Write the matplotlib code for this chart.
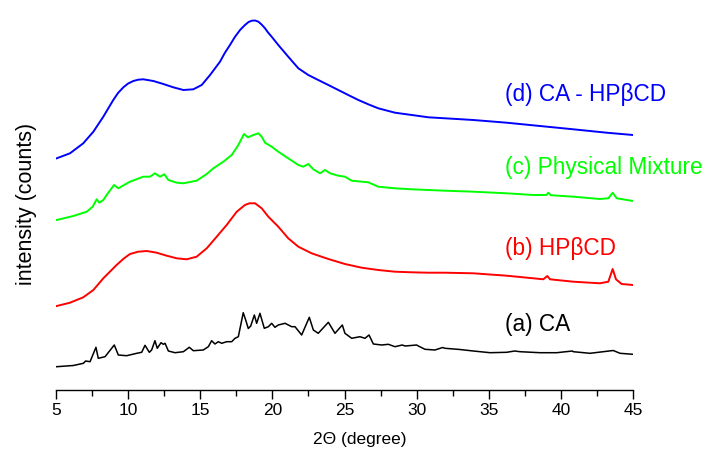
import matplotlib
matplotlib.use("Agg")
import matplotlib.pyplot as plt
from matplotlib.ticker import MultipleLocator

plt.rcParams['font.family'] = ['Liberation Sans', 'DejaVu Sans']

# (a) CA - sharp crystalline peaks
a_x = [5.05, 6.2, 6.9, 7.05, 7.36, 7.77, 7.93, 8.4, 9.04, 9.32, 9.9, 10.6, 10.94,
       11.17, 11.47, 11.63, 11.86, 12.02, 12.28, 12.44, 12.56, 12.79, 13.25, 13.83,
       14.24, 14.52, 15.21, 15.56, 15.79, 16.02, 16.25, 16.49, 16.83, 17.18, 17.41,
       17.64, 17.98, 18.15, 18.33, 18.5, 18.75, 18.91, 19.14, 19.44, 19.72, 19.95,
       20.18, 20.41, 20.88, 21.34, 21.57, 22.03, 22.56, 22.84, 23.18, 23.88, 24.34,
       24.85, 25.03, 25.5, 26.07, 26.42, 26.7, 27.0, 27.58, 28.04, 28.5, 29.0, 29.2,
       30.0, 30.12, 30.58, 31.27, 31.8, 31.97, 33.0, 33.93, 35.09, 36.24, 36.8,
       37.17, 38.55, 39.71, 40.8, 40.86, 42.02, 43.63, 44.1, 45.0]
a_y = [23.3, 24.5, 26.7, 29.0, 28.3, 42.7, 31.7, 33.3, 45.0, 35.0, 34.3, 36.7, 37.7,
       44.7, 37.7, 40.0, 49.3, 41.7, 47.3, 45.7, 46.7, 39.0, 37.3, 38.3,
       42.7, 39.3, 40.0, 43.3, 49.3, 46.0, 48.3, 46.7, 48.3, 48.3, 51.7,
       53.3, 77.3, 70.0, 61.5, 64.0, 75.0, 66.7, 76.7, 61.7, 63.3, 66.7,
       62.7, 65.0, 66.7, 63.3, 63.3, 55.0, 72.7, 60.0, 56.7, 67.7, 56.7,
       65.0, 56.7, 51.7, 53.3, 51.7, 55.0, 46.0, 45.0, 45.7, 43.3, 45.0, 44.0,
       45.0, 44.0, 40.7, 40.0, 42.5, 41.7, 40.5, 39.0, 37.3, 37.7, 39.0,
       38.3, 37.3, 37.3, 39.0, 38.3, 36.7, 39.5, 36.7, 35.7]

# (b) HPbCD - amorphous halo
b_x = [5.05, 5.97, 6.89, 7.59, 8.28, 8.75, 9.2, 9.7, 10.13, 10.7, 11.29, 11.98, 12.67,
       13.37, 14.06, 14.75, 15.45, 16.14, 16.83, 17.53, 18.1, 18.4, 18.8, 19.26,
       19.72, 20.41, 21.1, 21.8, 22.72, 23.88, 25.03, 26.19, 27.34, 28.5, 29.66,
       30.81, 31.97, 33.93, 36.24, 38.09, 38.78, 39.06, 39.25, 40.86, 42.71, 43.29,
       43.59, 43.82, 44.21, 45.0]
b_y = [84.0, 87.3, 92.7, 100.0, 111.7, 118.5, 125.0, 131.5, 136.0, 138.3, 139.0, 137.3,
       134.3, 131.7, 130.7, 133.3, 141.7, 153.3, 165.0, 178.3, 185.0, 186.7, 186.7,
       181.7, 173.3, 163.3, 151.7, 143.3, 136.7, 131.0, 126.0, 122.3, 120.0, 118.3,
       117.7, 117.3, 117.3, 116.7, 114.3, 111.7, 110.7, 114.0, 110.7, 108.3, 106.7,
       108.3, 121.0, 110.7, 106.0, 105.0]

# (c) Physical Mixture
c_x = [5.05, 6.2, 7.13, 7.54, 7.82, 8.0, 8.28, 8.51, 9.02, 9.32, 10.13, 11.05,
       11.52, 11.86, 12.21, 12.51, 12.79, 13.37, 13.83, 14.75, 15.45, 15.91, 16.6,
       17.18, 17.64, 18.03, 18.3, 18.68, 19.03, 19.26, 19.49, 19.95, 20.41, 21.1,
       21.8, 22.14, 22.49, 22.84, 23.3, 23.65, 24.0, 24.57, 25.03, 25.5, 26.65,
       27.34, 28.5, 29.66, 30.81, 31.97, 33.93, 36.24, 38.09, 39.0, 39.13, 39.3,
       40.86, 42.71, 43.29, 43.59, 43.87, 45.0]
c_y = [170.0, 174.0, 178.3, 183.3, 190.7, 187.3, 190.0, 195.0, 205.0, 201.7, 208.3, 213.3,
       213.3, 216.7, 213.3, 215.7, 210.0, 207.3, 206.7, 209.3, 216.0, 221.7, 228.3,
       235.0, 245.0, 256.0, 252.7, 255.0, 256.7, 253.3, 247.3, 243.3, 238.3, 231.7,
       225.0, 223.3, 226.0, 220.7, 216.7, 220.0, 216.7, 214.3, 213.3, 209.3, 207.7,
       203.3, 201.7, 200.7, 200.0, 199.3, 198.3, 196.7, 195.0, 195.0, 197.3, 194.8,
       193.3, 191.0, 191.7, 197.3, 191.7, 189.0]

# (d) CA - HPbCD inclusion complex
d_x = [5.05, 5.97, 6.89, 7.59, 8.28, 8.97, 9.3, 9.67, 10.0, 10.36, 10.7, 11.05, 11.75,
       12.44, 13.13, 13.83, 14.52, 15.1, 15.68, 16.37, 16.7, 17.06, 17.4, 17.76, 18.1,
       18.35, 18.57, 18.8, 19.03, 19.25, 19.49, 19.7, 19.95, 20.41, 21.1, 21.8, 22.49,
       23.18, 23.88, 24.57, 25.26, 25.96, 26.65, 27.34, 28.5, 29.66, 30.81, 31.97,
       33.93, 36.24, 38.55, 40.86, 43.17, 45.0]
d_y = [231.7, 236.7, 246.7, 258.3, 273.3, 290.0, 297.0, 302.7, 306.5, 309.0, 310.3, 310.7,
       309.0, 306.0, 302.7, 300.0, 300.7, 305.0, 315.0, 328.3, 337.0, 345.0, 353.0,
       360.0, 365.0, 368.0, 369.3, 369.5, 368.3, 365.5, 361.7, 357.5, 353.3, 345.0,
       333.3, 321.7, 315.0, 310.0, 305.0, 300.0, 295.0, 290.0, 285.7, 281.7, 277.3,
       275.0, 272.7, 271.7, 270.0, 267.3, 264.0, 260.7, 257.3, 255.0]

labels = ['(a) CA', '(b) HPβCD', '(c) Physical Mixture', '(d) CA - HPβCD']
label_y = [65, 142, 223, 296]
colors = ['black', '#ff0000', '#00ff00', '#0000ff']

fig = plt.figure(figsize=(7.02, 4.53), dpi=100)
ax = fig.add_axes([56 / 702, 63 / 453, 577 / 702, 380 / 453])

series = [(a_x, a_y), (b_x, b_y), (c_x, c_y), (d_x, d_y)]
for (xs, ys), col, lab, ly in zip(series, colors, labels, label_y):
    ax.plot(xs, ys, color=col, lw=1.1 if col == 'black' else 1.4)
    ax.text(36.1, ly, lab, color=col, fontsize=16.3, va='center', ha='left')

ax.set_xlim(5, 45)
ax.set_ylim(0, 380)
for s in ['top', 'right', 'left']:
    ax.spines[s].set_visible(False)
ax.spines['bottom'].set_linewidth(1.0)
ax.set_yticks([])
ax.xaxis.set_major_locator(MultipleLocator(5))
ax.xaxis.set_minor_locator(MultipleLocator(2.5))
ax.tick_params(axis='x', which='major', direction='out', length=6.5, width=1.0,
               labelsize=12.5, pad=3)
ax.tick_params(axis='x', which='minor', direction='out', length=4, width=1.0)

ax.set_xlabel('2Θ (degree)', fontsize=12.5)
ax.xaxis.set_label_coords(0.526, -0.11)
ax.set_ylabel('intensity (counts)', fontsize=15.5)
ax.yaxis.set_label_coords(-0.033, 0.49)

fig.savefig('out.png', dpi=100)
